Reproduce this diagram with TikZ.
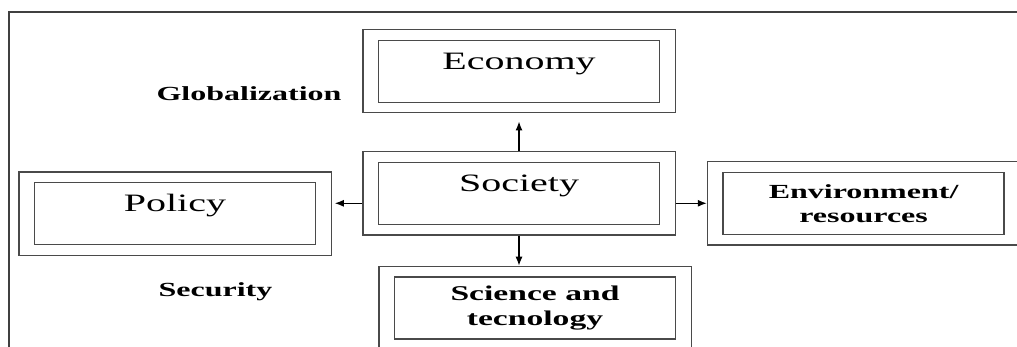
\documentclass[tikz,border=0pt]{standalone}
\usepackage{fontspec}
\setmainfont{Liberation Serif}[FakeStretch=1.6]
\usetikzlibrary{positioning,fit,arrows.meta}
\definecolor{boxgray}{HTML}{4A4A4A}
\definecolor{framegray}{HTML}{404040}

\begin{document}
\begin{tikzpicture}[x=1pt,y=-1pt]
	\tikzset{block/.style={draw=boxgray,
				line width=1.3pt,
				rectangle,
				minimum width=281pt,
				minimum height=62pt,
				inner sep=0pt,
				align=center},
			bigtext/.style={font=\fontsize{25}{30}\selectfont,
				text height=17pt,
				text depth=21pt},
			boldtext/.style={font=\fontsize{20}{24}\selectfont\bfseries,
				align=center},
			blockframe/.style={draw=boxgray,
				line width=1.3pt,
				inner xsep=15pt,
				inner ysep=10pt},
			arrow/.style={-{Latex[length=9pt,width=7pt]},
				line width=1.2pt}}
	\useasboundingbox (0,0) rectangle (1017,347);
	% Outer frame
	\draw[framegray, line width=2pt] (8.5,347) -- (8.5,11.7) -- (1017,11.7);

	% Nodes
	\node[block, bigtext] (soc) at (519,193.3) {Society};
	\node[block, bigtext, above=58.8pt of soc] (econ) {Economy};
	\node[block, bigtext, left=61.7pt of soc, yshift=-20.4pt] (pol) {Policy};
	\node[block, boldtext, right=62.3pt of soc, yshift=-10pt] (env) {Environment/\\resources};
	\node[block, boldtext, font=\fontsize{21}{25.5}\selectfont\bfseries,
		below=51.4pt of soc, xshift=16pt] (sci) {Science and\\tecnology};

	% Frames
	\node[blockframe, fit=(soc)] (socf) {};
	\node[blockframe, fit=(econ)] (econf) {};
	\node[blockframe, fit=(pol)] (polf) {};
	\node[blockframe, fit=(env)] (envf) {};
	\node[blockframe, fit=(sci)] (scif) {};

	% Side notes
	\node[boldtext] (glob) at (249,93.3) {Globalization};
	\node[boldtext] (secu) at (215.5,291.7) {Security};

	% Arrows
	\draw[arrow, shorten >=8pt] (socf.north) -- (econf.south);
	\draw[arrow, shorten >=3pt] (socf.west |- envf.west) -- (polf.east |- envf.west);
	\draw[arrow] (socf.east |- envf.west) -- (envf.west);
	\draw[arrow] (socf.south) -- (socf.south |- scif.north);
\end{tikzpicture}
\end{document}
